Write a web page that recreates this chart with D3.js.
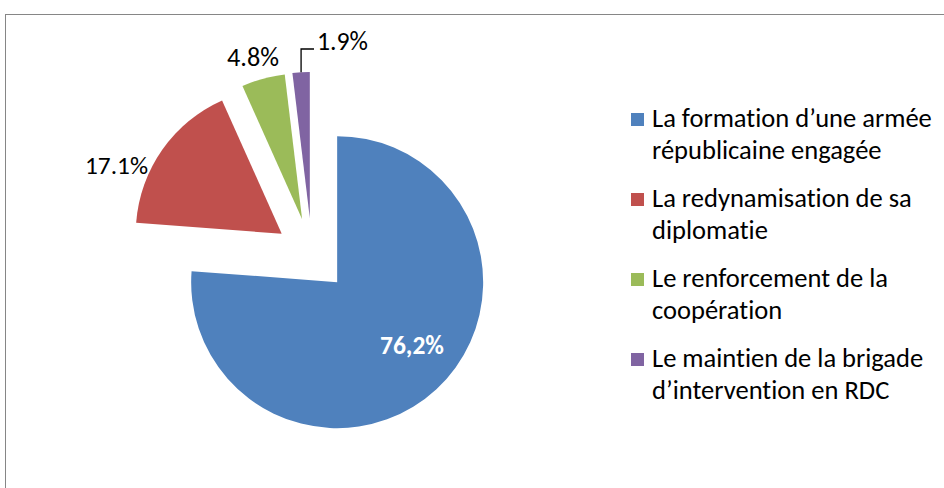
<!DOCTYPE html>
<html><head><meta charset="utf-8">
<script src="https://cdn.jsdelivr.net/npm/d3@7/dist/d3.min.js"></script>
<style>html,body{margin:0;padding:0;background:#fff;overflow:hidden}
text{font-variant-ligatures:none;font-feature-settings:"liga" 0,"clig" 0,"dlig" 0}</style>
</head><body>
<svg id="chart" width="944" height="488"></svg>
<script>
const categories = [
  ["La formation d\u2019une armée", "républicaine engagée"],
  ["La redynamisation de sa", "diplomatie"],
  ["Le renforcement de la", "coopération"],
  ["Le maintien de la brigade", "d\u2019intervention en RDC"]
];
const values = [76.2, 17.1, 4.8, 1.9];
const valueLabels = ["76,2%", "17.1%", "4.8%", "1.9%"];
const colors = ["#4F81BD", "#C0504D", "#9BBB59", "#8064A2"];

const FONT = "Carlito, Lato, 'Liberation Sans', sans-serif";
const svg = d3.select("#chart");

// frame
svg.append("rect").attr("x", 5.5).attr("y", 14.5).attr("width", 1000).attr("height", 600)
  .attr("fill", "none").attr("stroke", "#868686").attr("stroke-width", 1);

function fit(sel, target) {
  sel.attr("font-size", 20);
  const w = sel.node().getComputedTextLength();
  const fs = 20 * target / w;
  sel.attr("font-size", fs);
  return fs;
}

const cx = 312, cy = 255, R = 146, explode = 37;
const pie = d3.pie().sort(null).value(d => d);
const arcs = pie(values);
const arc = d3.arc().innerRadius(0).outerRadius(R);

const g = svg.append("g").attr("transform", `translate(${cx},${cy})`);
arcs.forEach((a, i) => {
  const mid = (a.startAngle + a.endAngle) / 2;
  const dx = explode * Math.sin(mid), dy = -explode * Math.cos(mid);
  g.append("path").attr("d", arc(a)).attr("fill", colors[i])
    .attr("transform", `translate(${dx},${dy})`);
});

// data labels
const labelPos = [
  {x: 412, y: 354, anchor: "middle", w: 64, bold: true, fill: "#fff"},
  {x: 116.5, y: 174, anchor: "middle", w: 63},
  {x: 253, y: 66, anchor: "middle", w: 52},
  {x: 317, y: 50, anchor: "start", w: 51}
];
labelPos.forEach((p, i) => {
  const t = svg.append("text").attr("x", p.x).attr("y", p.y)
    .attr("text-anchor", p.anchor).attr("font-family", FONT)
    .attr("font-weight", p.bold ? "bold" : "normal")
    .attr("fill", p.fill || "#000").text(valueLabels[i]);
  fit(t, p.w);
});

// leader line for smallest slice
{
  const a = arcs[3];
  const mid = (a.startAngle + a.endAngle) / 2;
  const ox = cx + explode * Math.sin(mid) + R * Math.sin(mid);
  const oy = cy - explode * Math.cos(mid) - R * Math.cos(mid);
  svg.append("path")
    .attr("d", `M${ox},${oy} L${ox},49 L314,49`)
    .attr("fill", "none").attr("stroke", "#000").attr("stroke-width", 1.3);
}

// legend
const lg = svg.append("g");
let legendFs = null;
categories.forEach((lines, i) => {
  const y0 = 127 + i * 80;
  lg.append("rect").attr("x", 631).attr("y", y0 - 14).attr("width", 13).attr("height", 13)
    .attr("fill", colors[i]);
  lines.forEach((ln, j) => {
    const t = lg.append("text").attr("x", 652).attr("y", y0 + j * 32)
      .attr("font-family", FONT).attr("fill", "#000").text(ln);
    if (legendFs === null) legendFs = fit(t, 280);
    else t.attr("font-size", legendFs);
  });
});
</script>
</body></html>
